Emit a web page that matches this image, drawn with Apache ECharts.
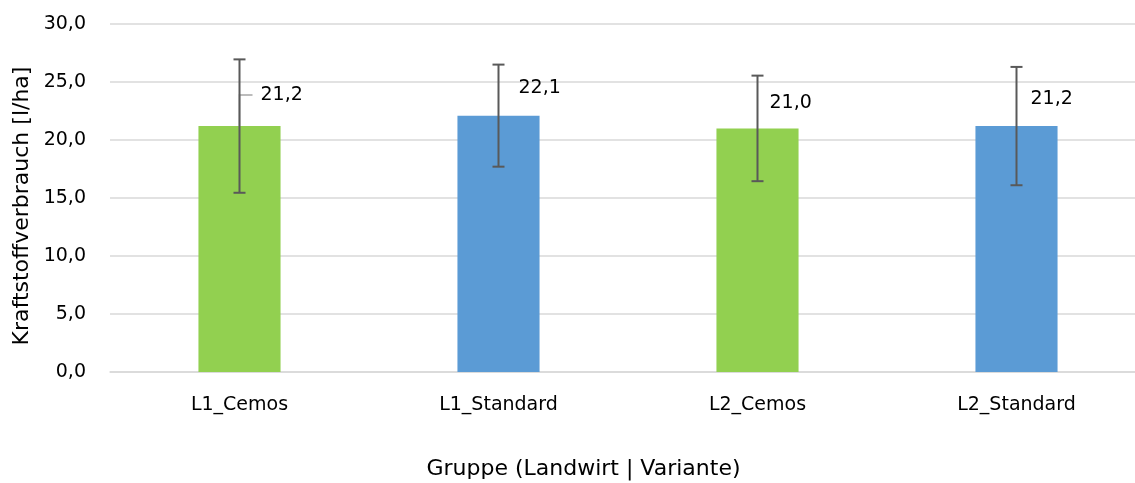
<!DOCTYPE html>
<html>
<head>
<meta charset="utf-8">
<script src="https://cdn.jsdelivr.net/npm/echarts@6/dist/echarts.min.js"></script>
<style>
  html, body { margin: 0; padding: 0; background: #fff; }
  #chart { width: 1135px; height: 483px; }
</style>
</head>
<body>
<div id="chart"></div>
<script>
// Kategorien und Werte
const categories = ['L1_Cemos', 'L1_Standard', 'L2_Cemos', 'L2_Standard']
const means = [21.2, 22.1, 21.0, 21.2]
const errors = [5.75, 4.4, 4.55, 5.1]
const barColors = ['#92d050', '#5b9bd5', '#92d050', '#5b9bd5']

// Lage der Datenbeschriftungen (relativ zur Balkenmitte / Balkenoberkante)
const labelDx = [21, 20, 12, 14]
const labelDy = [-31, -28, -25, -27]
const leaders = [true, false, false, false]

const font = 'DejaVu Sans'
const fmt = v => v.toFixed(1).replace('.', ',')

let myChart = echarts.init(document.getElementById('chart'))

let option = {
  animation: false,
  grid: {
    left: 110,
    top: 24,
    width: 1036,
    height: 348,
    outerBoundsMode: 'none',
    containLabel: false
  },
  xAxis: {
    type: 'category',
    data: categories,
    name: 'Gruppe (Landwirt | Variante)',
    nameLocation: 'middle',
    nameGap: 86,
    // Titel ist auf den sichtbaren Bereich zentriert, nicht auf die Achse
    nameTextStyle: { color: '#000', fontSize: 22, fontFamily: font, padding: [0, 89, 0, 0] },
    axisTick: { show: false },
    axisLine: { lineStyle: { color: '#d9d9d9', width: 1.5 } },
    axisLabel: { color: '#000', fontSize: 19, fontFamily: font, margin: 24 }
  },
  yAxis: {
    type: 'value',
    min: 0,
    max: 30,
    interval: 5,
    name: 'Kraftstoffverbrauch [l/ha]',
    nameLocation: 'middle',
    nameGap: 77,
    nameTextStyle: { color: '#000', fontSize: 22, fontFamily: font, padding: [0, 16, 0, 0] },
    axisLabel: {
      color: '#000',
      fontSize: 19,
      fontFamily: font,
      margin: 24,
      formatter: v => fmt(v)
    },
    splitLine: { lineStyle: { color: '#d9d9d9', width: 1.5 } }
  },
  series: [
    {
      type: 'bar',
      barWidth: '31.7%',
      data: means.map((v, i) => ({ value: v, itemStyle: { color: barColors[i] } }))
    },
    {
      // Fehlerbalken + Beschriftungen
      type: 'custom',
      z: 5,
      data: means.map((v, i) => [i, v - errors[i], v + errors[i], v]),
      renderItem: (params, api) => {
        let i = api.value(0)
        let low = api.coord([i, api.value(1)])
        let high = api.coord([i, api.value(2)])
        let top = api.coord([i, api.value(3)])
        let x = low[0]
        let cap = 6
        let lineStyle = { stroke: '#595959', lineWidth: 2 }
        let labelY = top[1] + labelDy[i]
        let children = []
        if (leaders[i]) {
          children.push({
            type: 'polyline',
            shape: { points: [[x, top[1]], [x, labelY], [x + 13, labelY]] },
            style: { stroke: '#a6a6a6', lineWidth: 1.5, fill: null }
          })
        }
        children.push(
          { type: 'line', shape: { x1: x, y1: high[1], x2: x, y2: low[1] }, style: lineStyle },
          { type: 'line', shape: { x1: x - cap, y1: high[1], x2: x + cap, y2: high[1] }, style: lineStyle },
          { type: 'line', shape: { x1: x - cap, y1: low[1], x2: x + cap, y2: low[1] }, style: lineStyle },
          {
            type: 'text',
            style: {
              x: x + labelDx[i],
              y: labelY,
              text: fmt(api.value(3)),
              fill: '#000',
              font: '19px "' + font + '"',
              textAlign: 'left',
              textVerticalAlign: 'middle'
            }
          }
        )
        return { type: 'group', children: children }
      }
    }
  ]
}
myChart.setOption(option)
</script>
</body>
</html>
